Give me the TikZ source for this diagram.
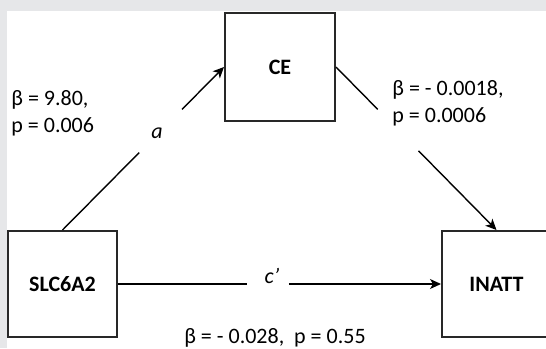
\documentclass[tikz,border=0pt]{standalone}
\usepackage{fontspec}
\setmainfont{Carlito}
\usetikzlibrary{arrows.meta, positioning, calc}
\definecolor{panelgray}{RGB}{230,231,233}
\definecolor{boxline}{RGB}{40,40,40}

\begin{document}
\begin{tikzpicture}[x=0.5pt, y=-0.5pt, >=Stealth, font=\fontsize{11}{13.5}\selectfont]
    % Styles
    \tikzstyle{var} = [rectangle, draw=boxline, line width=1pt, minimum width=54.5pt, minimum height=53pt, inner sep=0pt, font=\fontsize{11}{13.5}\selectfont\bfseries]
    \tikzstyle{link} = [draw, line width=0.7pt]
    \tikzstyle{arrow} = [link, -{Stealth[length=5.5pt, width=5pt, inset=1.5pt]}]
    \tikzstyle{coef} = [align=left, anchor=west, inner sep=0pt]
    \tikzstyle{effect} = [inner sep=0pt, font=\fontsize{11}{13.5}\selectfont\itshape]

    % Frame
    \useasboundingbox (0,0) rectangle (546,348);
    \clip (0,0) rectangle (546,348);
    \fill[panelgray] (0,0) rectangle (546,348);
    \fill[white] (7,11) rectangle (546,348);

    % Nodes
    \node[var] (slc) at (62.5,284) {SLC6A2};
    \node[var, right of=slc, node distance=217pt] (inatt) {INATT};
    \node[var, minimum width=55pt, minimum height=54pt] (ce) at (280,67) {CE};

    % Gaps in the paths
    \coordinate (a1) at ($(slc.north)!0.475!(ce.west)$);
    \coordinate (a2) at ($(slc.north)!0.74!(ce.west)$);
    \coordinate (b1) at ($(ce.east)!0.26!(inatt.north)$);
    \coordinate (b2) at ($(ce.east)!0.514!(inatt.north)$);
    \coordinate (c1) at ($(slc.east)!0.4!(inatt.west)$);
    \coordinate (c2) at ($(slc.east)!0.529!(inatt.west)$);

    % Edges
    \draw[link] (slc.north) -- (a1);
    \draw[arrow] (a2) -- (ce.west);
    \draw[link] (ce.east) -- (b1);
    \draw[arrow] (b2) -- (inatt.north);
    \draw[link] (slc.east) -- (c1);
    \draw[arrow] (c2) -- (inatt.west);

    % Labels
    \node[effect] (alab) at (157,133) {a};
    \node[effect] (clab) at (272,276) {c’};
    \node[coef] (acoef) at (11,113) {β = 9.80,\\p = 0.006};
    \node[coef] (bcoef) at (392,103) {β = - 0.0018,\\p = 0.0006};
    \node[coef, anchor=center] (ccoef) at (275,338) {β = - 0.028,~~p = 0.55};

\end{tikzpicture}
\end{document}
